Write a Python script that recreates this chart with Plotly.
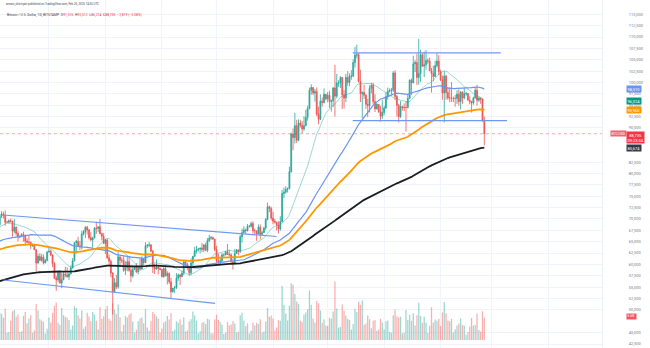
import pandas as pd
import plotly.graph_objects as go

# ---------------------------------------------------------------
# BTC/USD daily candles (Bitstamp), (open, high, low, close) in USD thousands
# ---------------------------------------------------------------
jun_2024 = [
    (67.5, 67.9, 67.4, 67.8), (67.8, 68.4, 67.3, 67.8), (67.8, 70.3, 67.6, 68.8), (68.8, 71.1, 68.5, 70.6),
    (70.6, 71.7, 70.2, 71.1), (71.1, 71.6, 70.1, 70.8), (70.8, 71.9, 68.5, 69.3), (69.3, 69.6, 69.2, 69.3),
    (69.3, 69.9, 69.1, 69.6), (69.6, 70.1, 69.2, 69.5), (69.5, 69.6, 66.1, 67.3), (67.3, 70.0, 66.9, 68.2),
    (68.2, 68.4, 66.3, 66.8), (66.8, 67.3, 65.1, 66.0), (66.0, 66.4, 65.9, 66.2), (66.2, 66.9, 66.0, 66.6),
    (66.6, 67.2, 65.0, 66.5), (66.5, 66.5, 64.1, 65.1), (65.1, 65.7, 64.7, 64.9), (64.9, 66.5, 64.5, 64.9),
    (64.9, 65.0, 63.4, 64.1), (64.1, 64.5, 63.9, 64.3), (64.3, 64.5, 63.2, 63.2), (63.2, 63.4, 58.5, 60.3),
    (60.3, 62.3, 60.2, 61.8), (61.8, 62.5, 60.7, 60.9), (60.9, 62.3, 60.6, 61.6), (61.6, 62.2, 60.0, 60.3),
    (60.3, 61.2, 60.3, 60.9), (60.9, 63.0, 60.7, 62.7),
]
jul_2024 = [
    (62.7, 63.8, 62.7, 62.9), (62.9, 63.3, 61.8, 62.1), (62.1, 62.2, 59.4, 60.2), (60.2, 60.5, 56.8, 57.0),
    (57.0, 57.5, 54.2, 56.6), (56.6, 58.5, 56.1, 58.2), (58.2, 58.3, 55.8, 55.9), (55.9, 58.2, 54.8, 56.7),
    (56.7, 58.3, 56.5, 57.9), (57.9, 59.5, 57.2, 57.7), (57.7, 59.4, 57.1, 57.3), (57.3, 58.5, 56.6, 57.9),
    (57.9, 59.8, 57.8, 59.2), (59.2, 61.4, 59.2, 60.8), (60.8, 64.9, 60.7, 64.8), (64.8, 65.4, 62.4, 65.1),
    (65.1, 66.1, 64.0, 64.1), (64.1, 65.1, 63.2, 63.9), (63.9, 67.4, 63.3, 66.7), (66.7, 67.6, 66.4, 67.2),
    (67.2, 68.4, 65.8, 68.2), (68.2, 68.5, 66.6, 67.6), (67.6, 67.8, 65.5, 65.9), (65.9, 67.1, 65.1, 65.4),
    (65.4, 66.1, 63.4, 65.8), (65.8, 68.2, 65.8, 68.0), (68.0, 69.4, 66.7, 67.9), (67.9, 68.3, 67.1, 68.3),
    (68.3, 70.0, 66.6, 66.8), (66.8, 67.0, 65.3, 66.2), (66.2, 66.9, 64.5, 64.6),
]
aug_2024 = [
    (64.6, 65.6, 62.3, 65.4), (65.4, 65.6, 61.2, 61.5), (61.5, 62.2, 59.9, 60.7), (60.7, 61.1, 57.2, 58.1),
    (58.1, 58.3, 49.0, 54.0), (54.0, 57.0, 54.0, 56.0), (56.0, 57.7, 54.6, 55.1), (55.1, 62.7, 54.7, 61.7),
    (61.7, 61.7, 59.6, 60.9), (60.9, 61.5, 60.3, 60.9), (60.9, 61.8, 58.4, 58.7), (58.7, 60.7, 57.7, 59.3),
    (59.3, 61.6, 58.5, 60.6), (60.6, 61.8, 58.4, 58.7), (58.7, 59.8, 56.1, 57.5), (57.5, 59.8, 57.1, 58.9),
    (58.9, 59.7, 58.8, 59.5), (59.5, 60.3, 58.1, 58.4), (58.4, 59.6, 57.8, 59.5), (59.5, 61.4, 58.6, 59.0),
    (59.0, 61.8, 58.8, 61.2), (61.2, 61.4, 59.8, 60.4), (60.4, 64.9, 60.3, 64.1), (64.1, 64.5, 63.6, 64.2),
    (64.2, 65.0, 63.8, 64.3), (64.3, 64.5, 62.8, 62.9), (62.9, 63.2, 58.1, 59.5), (59.5, 60.2, 57.9, 59.0),
    (59.0, 61.1, 58.8, 59.4), (59.4, 59.9, 57.8, 59.1), (59.1, 59.4, 58.7, 58.9),
]
sep_2024 = [
    (58.9, 59.0, 57.2, 57.3), (57.3, 59.4, 57.1, 59.1), (59.1, 59.8, 57.4, 57.5), (57.5, 58.5, 55.6, 58.0),
    (58.0, 58.3, 55.7, 56.2), (56.2, 57.0, 52.6, 54.0), (54.0, 54.8, 53.8, 54.8), (54.8, 55.3, 53.7, 54.9),
    (54.9, 58.1, 54.6, 57.0), (57.0, 58.0, 56.4, 57.7), (57.7, 57.9, 55.5, 57.3), (57.3, 58.6, 57.3, 58.1),
    (58.1, 60.6, 57.6, 60.6), (60.6, 60.6, 59.5, 60.0), (60.0, 60.4, 58.7, 59.2), (59.2, 59.2, 57.5, 58.2),
    (58.2, 61.3, 57.6, 60.3), (60.3, 61.8, 59.2, 61.8), (61.8, 63.9, 61.6, 63.0), (63.0, 64.1, 62.4, 63.2),
    (63.2, 63.6, 62.8, 63.4), (63.4, 63.7, 62.4, 63.6), (63.6, 64.7, 62.7, 63.3), (63.3, 64.5, 62.7, 64.3),
    (64.3, 64.8, 62.9, 63.1), (63.1, 65.8, 62.7, 65.2), (65.2, 66.5, 64.9, 65.8), (65.8, 66.3, 65.4, 65.9),
    (65.9, 66.1, 65.4, 65.6), (65.6, 65.6, 62.9, 63.3),
]
oct_2024 = [
    (63.3, 64.1, 60.2, 60.8), (60.8, 62.4, 60.0, 60.6), (60.6, 61.5, 59.8, 60.8), (60.8, 62.5, 60.5, 62.1),
    (62.1, 62.4, 61.7, 62.1), (62.1, 63.0, 62.0, 62.8), (62.8, 64.5, 62.1, 62.2), (62.2, 63.2, 61.8, 62.1),
    (62.1, 62.5, 60.3, 60.6), (60.6, 61.3, 58.9, 60.3), (60.3, 63.4, 60.0, 62.4), (62.4, 63.4, 62.4, 63.2),
    (63.2, 63.3, 62.0, 62.9), (62.9, 66.5, 62.5, 66.1), (66.1, 67.9, 64.8, 67.0), (67.0, 68.4, 66.8, 67.6),
    (67.6, 67.9, 66.7, 67.4), (67.4, 68.9, 67.3, 68.4), (68.4, 68.7, 68.1, 68.4), (68.4, 69.4, 68.1, 69.0),
    (69.0, 69.5, 66.8, 67.4), (67.4, 67.9, 66.6, 67.4), (67.4, 67.4, 65.2, 66.7), (66.7, 68.8, 66.6, 68.2),
    (68.2, 68.8, 65.5, 66.6), (66.6, 67.4, 66.5, 67.0), (67.0, 68.3, 66.9, 68.0), (68.0, 70.2, 67.6, 69.9),
    (69.9, 73.6, 69.7, 72.7), (72.7, 72.9, 71.5, 72.3), (72.3, 72.7, 69.7, 70.2),
]
nov_2024 = [
    (70.2, 71.6, 68.8, 69.5), (69.5, 70.0, 69.0, 69.3), (69.3, 69.4, 67.5, 68.7), (68.7, 69.5, 66.8, 67.8),
    (67.8, 70.6, 67.4, 69.4), (69.4, 76.4, 69.3, 75.6), (75.6, 76.9, 74.6, 75.9), (75.9, 77.2, 75.6, 76.5),
    (76.5, 76.9, 75.8, 76.7), (76.7, 81.5, 76.5, 80.4), (80.4, 89.0, 80.2, 88.7), (88.7, 89.9, 85.1, 87.9),
    (87.9, 93.3, 86.6, 90.5), (90.5, 91.8, 86.7, 87.3), (87.3, 91.9, 87.1, 91.1), (91.1, 91.8, 90.1, 90.6),
    (90.6, 91.5, 88.8, 89.8), (89.8, 92.6, 89.4, 90.5), (90.5, 94.0, 90.4, 92.3), (92.3, 94.9, 91.6, 94.3),
    (94.3, 98.9, 94.1, 98.3), (98.3, 99.6, 97.3, 98.9), (98.9, 98.9, 97.2, 97.7), (97.7, 98.6, 95.8, 98.0),
    (98.0, 98.9, 92.6, 93.0), (93.0, 94.7, 90.8, 91.9), (91.9, 97.4, 91.8, 95.9), (95.9, 96.7, 94.7, 95.6),
    (95.6, 98.7, 95.4, 97.4), (97.4, 97.5, 96.1, 96.4),
]
dec_2024 = [
    (96.4, 97.9, 95.7, 97.2), (97.2, 98.2, 94.4, 95.8), (95.8, 96.3, 93.6, 96.0), (96.0, 99.0, 94.6, 98.8),
    (98.8, 103.9, 92.5, 97.0), (97.0, 101.9, 96.5, 99.9), (99.9, 100.5, 99.0, 99.9), (99.9, 101.4, 98.8, 101.1),
    (101.1, 101.2, 94.2, 97.3), (97.3, 98.3, 94.3, 96.6), (96.6, 101.9, 95.7, 101.1), (101.1, 102.5, 99.3, 100.0),
    (100.0, 102.0, 99.2, 101.4), (101.4, 102.7, 100.6, 101.4), (101.4, 105.1, 101.2, 104.4), (104.4, 107.8, 103.3, 106.0),
    (106.0, 108.3, 105.3, 106.1), (106.1, 106.5, 100.0, 100.2), (100.2, 102.8, 95.7, 97.5), (97.5, 98.1, 92.2, 97.8),
    (97.8, 99.5, 96.4, 97.2), (97.2, 97.4, 94.2, 95.2), (95.2, 96.4, 92.4, 94.9), (94.9, 99.4, 93.4, 98.7),
    (98.7, 99.9, 97.6, 99.4), (99.4, 99.9, 95.2, 95.8), (95.8, 97.4, 93.5, 94.2), (94.2, 95.5, 94.1, 95.2),
    (95.2, 95.2, 93.3, 93.6), (93.6, 94.9, 91.4, 92.6), (92.6, 96.1, 92.0, 93.4),
]
jan_2025 = [
    (93.4, 94.9, 92.8, 94.4), (94.4, 97.8, 94.2, 96.9), (96.9, 98.9, 96.2, 98.1), (98.1, 98.7, 97.8, 98.2),
    (98.2, 98.8, 97.3, 98.3), (98.3, 102.5, 97.9, 102.1), (102.1, 102.7, 96.1, 96.9), (96.9, 97.3, 92.5, 95.0),
    (95.0, 95.3, 91.2, 92.5), (92.5, 95.9, 92.2, 94.7), (94.7, 94.9, 93.8, 94.5), (94.5, 95.4, 93.7, 94.5),
    (94.5, 95.9, 89.2, 94.5), (94.5, 97.4, 94.3, 96.5), (96.5, 100.7, 96.5, 100.5), (100.5, 100.9, 97.3, 99.9),
    (99.9, 105.9, 99.9, 104.1), (104.1, 104.9, 102.3, 104.4), (104.4, 106.3, 99.5, 101.1), (101.1, 109.6, 99.5, 102.0),
    (102.0, 107.2, 100.1, 106.1), (106.1, 106.4, 103.4, 103.6), (103.6, 106.8, 101.2, 103.9), (103.9, 107.1, 102.8, 104.8),
    (104.8, 105.3, 104.1, 104.7), (104.7, 105.5, 102.5, 102.6), (102.6, 103.2, 97.8, 102.0), (102.0, 103.7, 100.3, 101.3),
    (101.3, 104.8, 101.3, 103.7), (103.7, 106.5, 103.3, 104.7), (104.7, 106.0, 101.6, 102.4),
]
feb_2025 = [
    (102.4, 102.8, 100.3, 100.6), (100.6, 101.5, 96.2, 97.7), (97.7, 102.5, 91.2, 101.4), (101.4, 101.7, 96.2, 97.8),
    (97.8, 99.0, 96.2, 96.6), (96.6, 99.0, 95.7, 96.6), (96.6, 100.1, 95.7, 96.5), (96.5, 96.9, 95.7, 96.5),
    (96.5, 97.3, 94.7, 96.5), (96.5, 98.3, 95.3, 97.4), (97.4, 98.5, 94.9, 95.8), (95.8, 98.1, 94.1, 97.9),
    (97.9, 98.0, 95.3, 96.6), (96.6, 98.8, 96.3, 97.5), (97.5, 97.9, 97.1, 97.6), (97.6, 97.7, 96.1, 96.1),
    (96.1, 97.0, 95.2, 95.8), (95.8, 96.0, 93.4, 95.5), (95.5, 96.9, 95.1, 96.6), (96.6, 98.8, 96.4, 98.3),
    (98.3, 99.5, 94.9, 96.1), (96.1, 96.9, 95.7, 96.6), (96.6, 96.7, 95.3, 96.3), (96.3, 96.5, 91.4, 91.554),
    (91.516, 92.512, 86.214, 88.735),
]

# Daily volume, thousands of BTC
vol_jun_2024 = [2.0, 2.2, 5.5, 6.8, 6.5, 5.6, 7.8, 1.8, 2.0, 4.8, 7.2, 7.5, 5.8, 6.4, 2.0,
                2.2, 6.0, 7.0, 4.2, 5.4, 6.2, 1.8, 2.4, 9.0, 7.4, 5.2, 4.9, 4.6, 1.6, 2.8]
vol_jul_2024 = [5.6, 4.4, 6.8, 8.6, 9.4, 4.4, 3.8, 8.0, 6.2, 5.8, 5.6, 5.0, 2.6, 3.6, 8.5, 8.0,
                6.2, 5.4, 7.4, 2.8, 3.4, 6.8, 5.9, 4.7, 7.0, 6.4, 4.8, 2.6, 8.2, 5.3, 5.9]
vol_aug_2024 = [7.7, 8.5, 5.3, 4.8, 9.2, 7.6, 6.5, 8.9, 5.7, 2.1, 3.8, 6.0, 5.6, 6.4, 6.7, 4.6,
                1.9, 2.6, 4.7, 5.4, 5.6, 4.2, 7.8, 3.1, 2.3, 4.7, 7.0, 6.5, 5.9, 5.3, 1.9]
vol_sep_2024 = [2.9, 4.4, 4.7, 6.0, 5.1, 6.7, 2.2, 2.6, 4.7, 4.3, 5.2, 3.8, 5.7, 2.1, 2.4,
                4.7, 5.2, 7.1, 6.2, 4.8, 1.7, 2.2, 4.3, 4.5, 4.0, 5.3, 5.1, 1.7, 1.6, 5.2]
vol_oct_2024 = [6.3, 5.0, 4.5, 3.9, 1.5, 1.9, 4.5, 3.6, 3.9, 4.7, 4.1, 1.9, 2.1, 6.2, 6.8, 4.9,
                3.5, 4.2, 1.6, 2.3, 4.4, 3.6, 4.3, 4.0, 5.2, 1.9, 2.1, 4.6, 8.0, 5.8, 6.1]
vol_nov_2024 = [5.4, 2.4, 3.1, 5.0, 4.8, 13.5, 8.8, 6.6, 4.9, 8.6, 14.2, 13.8, 11.5, 9.6, 9.0,
                4.8, 4.5, 6.4, 6.9, 7.7, 12.4, 8.8, 5.4, 4.4, 9.8, 9.2, 7.4, 4.3, 5.2, 3.6]
vol_dec_2024 = [3.5, 5.6, 5.4, 7.1, 14.6, 7.9, 3.1, 3.3, 8.9, 7.3, 6.1, 5.3, 5.0, 2.6, 4.0, 7.8,
                7.0, 9.6, 8.8, 9.9, 3.8, 4.1, 6.1, 5.2, 2.9, 4.8, 5.0, 2.3, 2.6, 5.3, 4.4]
vol_jan_2025 = [2.6, 4.7, 4.9, 2.0, 1.8, 6.2, 7.6, 5.9, 5.6, 5.8, 1.7, 1.9, 7.5, 5.0, 6.3, 4.8,
                6.7, 3.6, 6.2, 9.3, 6.0, 4.3, 5.8, 4.3, 1.8, 3.5, 8.2, 4.4, 5.1, 4.8, 5.3]
vol_feb_2025 = [3.5, 6.9, 9.5, 6.7, 4.9, 4.7, 5.3, 1.9, 2.7, 3.6, 4.1, 5.4, 3.7, 3.6, 1.3,
                2.0, 3.4, 5.5, 3.6, 3.8, 6.6, 2.5, 2.1, 7.2, 5.6]

# Closes from 12 Apr to 31 May 2024 (USD thousands), history for the moving averages
history_closes = [67.1, 63.9, 65.7, 63.4, 63.8, 61.3, 63.5, 63.8, 64.9, 64.9, 66.8, 66.4, 64.3,
                  64.5, 63.8, 63.4, 63.1, 63.8, 60.6,
                  58.3, 59.1, 62.9, 63.9, 64.0, 63.2, 62.3, 61.2, 63.1, 60.8, 60.8, 61.5, 62.9,
                  61.6, 66.3, 65.2, 67.0, 66.9, 66.3, 71.4, 70.1, 69.1, 67.9, 68.5, 69.3, 68.5,
                  69.4, 68.3, 67.6, 68.4, 67.5]

# EMA values on 1 Jun 2024 (USD thousands)
ema100_start = 62.9
ema200_start = 56.0

# Author's drawings: (date, price in USD)
channel_top = [("2024-06-05 20:00", 70870), ("2024-11-03 00:00", 66150)]
channel_bottom = [("2024-06-05 22:00", 56580), ("2024-09-30 04:00", 51460)]
range_top = [("2024-12-14 18:00", 106530), ("2025-03-06 00:00", 106530)]
range_bottom = [("2024-12-14 18:00", 91600), ("2025-03-09 12:00", 91600)]

price_ticks = list(range(42500, 115001, 2500))
view_start, view_end = "2024-06-04 03:07", "2025-04-30 14:24"
price_view = (41635, 118135)
volume_view = (-2000, 85000)

# ---------------------------------------------------------------
rows = jun_2024 + jul_2024 + aug_2024 + sep_2024 + oct_2024 + nov_2024 + dec_2024 + jan_2025 + feb_2025
vols = (vol_jun_2024 + vol_jul_2024 + vol_aug_2024 + vol_sep_2024 + vol_oct_2024 + vol_nov_2024
        + vol_dec_2024 + vol_jan_2025 + vol_feb_2025)
dates = pd.date_range("2024-06-01", periods=len(rows), freq="D")
df = pd.DataFrame(rows, columns=["o", "h", "l", "c"], index=dates) * 1000
df["v"] = [v * 1000 for v in vols]

# Simple moving averages over the history + visible closes
all_close = pd.Series([c * 1000 for c in history_closes] + list(df["c"]))
n_hist = len(history_closes)
df["sma20"] = all_close.rolling(20).mean().iloc[n_hist:].values
df["sma50"] = all_close.rolling(50).mean().iloc[n_hist:].values


def ema(closes, start, period):
    k = 2.0 / (period + 1)
    out = [start]
    for cl in closes[1:]:
        out.append(out[-1] + k * (cl - out[-1]))
    return out


df["ema100"] = ema(list(df["c"]), ema100_start * 1000, 100)
df["ema200"] = ema(list(df["c"]), ema200_start * 1000, 200)

UP, DOWN = "#26a69a", "#ef5350"
up_day = df["c"] >= df["o"]
vol_colors = ["rgba(38,166,154,0.45)" if u else "rgba(239,83,80,0.45)" for u in up_day]

fig = go.Figure()
fig.add_bar(x=df.index, y=df["v"], marker_color=vol_colors, marker_line_width=0,
            yaxis="y2", hoverinfo="skip", showlegend=False)
fig.add_candlestick(
    x=df.index, open=df["o"], high=df["h"], low=df["l"], close=df["c"],
    increasing=dict(line=dict(color=UP, width=0.8), fillcolor=UP),
    decreasing=dict(line=dict(color=DOWN, width=0.8), fillcolor=DOWN),
    whiskerwidth=0, hoverinfo="skip", showlegend=False,
)
ma_styles = [("sma20", "rgba(38,166,154,0.45)", 1.0), ("sma50", "#6b93f0", 1.2),
             ("ema100", "#ff9800", 1.8), ("ema200", "#1b1d24", 1.8)]
for col, colr, w in ma_styles:
    fig.add_scatter(x=df.index, y=df[col], mode="lines", line=dict(color=colr, width=w),
                    hoverinfo="skip", showlegend=False)

for seg in (channel_top, channel_bottom, range_top, range_bottom):
    fig.add_scatter(x=[p[0] for p in seg], y=[p[1] for p in seg], mode="lines",
                    line=dict(color="#6f98f2", width=1.2), hoverinfo="skip", showlegend=False)

last = df.iloc[-1]
prev_close = df["c"].iloc[-2]
chg = last["c"] - prev_close

# last-price line
fig.add_shape(type="line", xref="paper", x0=0, x1=1, yref="y", y0=last["c"], y1=last["c"],
              line=dict(color="rgba(242,54,69,0.55)", width=0.8, dash="dot"))

W_PLOT = 602.0
H_PLOT = 348.0
PX_PER_USD = H_PLOT / (price_view[1] - price_view[0])


def fmt(v):
    return f"{v:,.0f}"


RED = "#f23645"
ann = []
ann.append(dict(xref="paper", yref="paper", x=4 / W_PLOT, y=(H_PLOT - 4) / H_PLOT,
                xanchor="left", yanchor="middle", showarrow=False,
                text="arman_shirinyan published on TradingView.com, Feb 25, 2025 14:36 UTC",
                font=dict(size=2.9, color="#3b3f4a", family="Roboto")))
sp = lambda s: f"<span style='color:{RED}'>{s}</span>"
legend_text = ("Bitcoin / U.S. Dollar, 1D, BITSTAMP  "
               f"O{sp(fmt(last['o']))}  H{sp(fmt(last['h']))}  L{sp(fmt(last['l']))}  "
               f"C{sp(fmt(last['c']))}  {sp(f'−{abs(chg):,.0f} (−{abs(chg) / prev_close * 100:.2f}%)')}")
ann.append(dict(xref="paper", yref="paper", x=5 / W_PLOT, y=(H_PLOT - 15) / H_PLOT,
                xanchor="left", yanchor="middle", showarrow=False, text=legend_text,
                font=dict(size=3.4, color="#3b3f4a", family="Roboto")))

# price-scale value tags
tags = [(last["sma50"], "#6b93f0"), (last["sma20"], "#089981"),
        (last["ema100"], "#ff9800"), (last["ema200"], "#363a45")]
for val, colr in tags:
    ann.append(dict(xref="paper", yref="y", x=626 / W_PLOT, y=val, xanchor="left", yanchor="middle",
                    showarrow=False, text=fmt(val), bgcolor=colr, borderpad=0.5,
                    font=dict(size=4, color="white", family="Roboto")))
ann.append(dict(xref="paper", yref="y", x=626 / W_PLOT, y=last["c"], xanchor="left", yanchor="top",
                yshift=2.5, showarrow=False, text=fmt(last["c"]) + "<br>09:23:34", bgcolor=RED,
                borderpad=0.5, font=dict(size=4, color="white", family="Roboto")))
ann.append(dict(xref="paper", yref="y", x=610 / W_PLOT, y=last["c"], xanchor="left", yanchor="middle",
                showarrow=False, text="BTCUSD", bgcolor="#f4626c", borderpad=0.5,
                font=dict(size=3.6, color="white", family="Roboto")))
ann.append(dict(xref="paper", yref="y2", x=626 / W_PLOT, y=last["v"], xanchor="left", yanchor="middle",
                yshift=1.5, showarrow=False, text=f"{last['v'] / 1000:.1f}K", bgcolor="#f7525f",
                borderpad=0.3, font=dict(size=3.6, color="white", family="Roboto")))

# the price scale hides tick labels sitting under a value tag
busy_prices = [last["ema200"], last["c"] - 1.2 / PX_PER_USD]
vol_tag_price = price_view[0] + (last["v"] - volume_view[0]) / (volume_view[1] - volume_view[0]) * (
    price_view[1] - price_view[0])
busy_prices.append(vol_tag_price)
shown_ticks = [t for t in price_ticks
               if all(abs(t - b) * PX_PER_USD > 4.5 for b in busy_prices)]

month_lines = pd.date_range("2024-06-01", "2025-04-01", freq="MS")

fig.update_layout(
    width=650, height=348, margin=dict(l=0, r=48, t=0, b=0),
    paper_bgcolor="white", plot_bgcolor="white",
    bargap=0.3, showlegend=False, annotations=ann,
    xaxis=dict(type="date", range=[view_start, view_end], rangeslider=dict(visible=False),
               tickvals=month_lines, showticklabels=False, showgrid=True, gridcolor="#f0f3fa",
               gridwidth=1, zeroline=False, showline=False, fixedrange=True),
    yaxis=dict(side="right", range=list(price_view), tickvals=shown_ticks,
               ticktext=[fmt(t) for t in shown_ticks], tickfont=dict(size=4, color="#787b86",
                                                                     family="Roboto"),
               ticks="", ticklabelstandoff=25, showgrid=True, gridcolor="#f0f3fa", gridwidth=1,
               zeroline=False, showline=True, linecolor="#eceff4", linewidth=1, automargin=False),
    yaxis2=dict(overlaying="y", range=list(volume_view), visible=False, showgrid=False),
)

fig.write_html("out.html", config={"displayModeBar": False})
